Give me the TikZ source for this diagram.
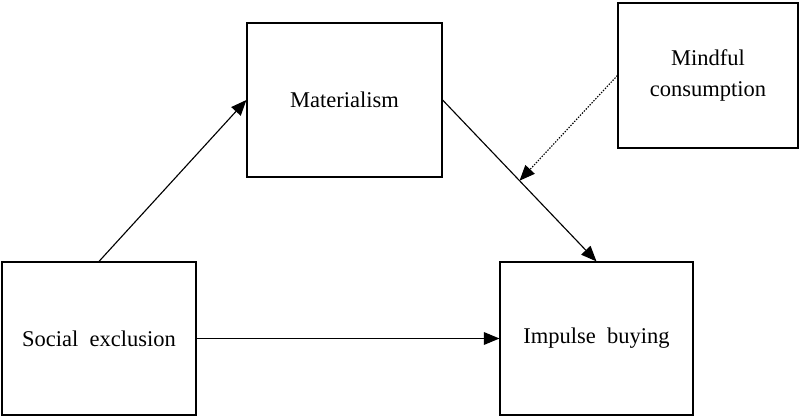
\documentclass[tikz,border=0pt]{standalone}
\usepackage{fontspec}
\setmainfont{Liberation Serif}
\usetikzlibrary{arrows.meta}
\tikzset{
  box/.style={draw, line width=0.8pt, inner sep=0pt, align=center,
    font=\fontsize{16}{21.5}\selectfont},
  link/.style={line width=0.8pt, -{Triangle[length=11pt, width=9pt]}}
}
\begin{document}
\begin{tikzpicture}[x=0.025cm,y=-0.025cm]
      \useasboundingbox (0,0) rectangle (800,418);
      \draw
        (99,338.5) node[box, minimum width=4.85cm, minimum height=3.825cm] (social){Social\ \ exclusion}
        (344.5,100) node[box, minimum width=4.875cm, minimum height=3.85cm] (mater){Materialism}
        (596.5,338.5) node[box, minimum width=4.825cm, minimum height=3.825cm] (impulse){Impulse\ \ buying}
        (708,75.5) node[box, minimum width=4.5cm, minimum height=3.625cm] (mindful){Mindful\\consumption};
      \begin{scope}[link]
        \draw (social.north) to (mater.west);
        \draw (mater.east) to coordinate[pos=0.5] (mid) (impulse.north);
        \draw (social.east) to (impulse.west);
        \draw[dash pattern=on 1pt off 1pt] (mindful.west) to (mid);
      \end{scope}
    \end{tikzpicture}
\end{document}
